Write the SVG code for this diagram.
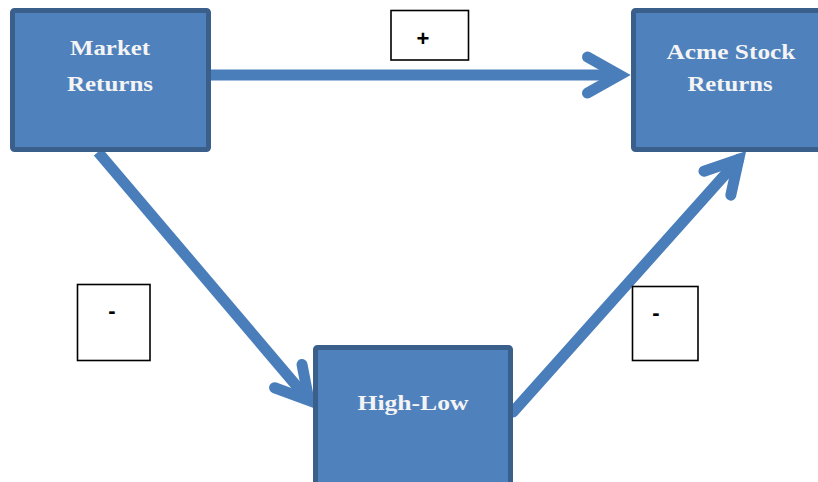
<svg xmlns="http://www.w3.org/2000/svg" width="818" height="482" viewBox="0 0 818 482">
<style>
.box{fill:#4f81bd;stroke:#3a5f8b;stroke-width:5}
.lbl{font-family:"Liberation Serif","Times New Roman",serif;font-weight:bold;font-size:22px;fill:#f4f4f4;text-anchor:middle}
.sign{fill:#fff;stroke:#000;stroke-width:1.6}
.signt{font-family:"Liberation Sans",Arial,sans-serif;font-weight:bold;font-size:22px;fill:#000;text-anchor:middle}
.conn{fill:none;stroke:#4a7ebb;stroke-width:11;marker-end:url(#ah)}
</style>
<defs>
<marker id="ah" markerUnits="userSpaceOnUse" orient="auto" refX="0" refY="0" viewBox="-50 -30 60 60" markerWidth="60" markerHeight="60" overflow="visible">
<path d="M-32,-18 L0,0 L-32,18" fill="none" stroke="#4a7ebb" stroke-width="11" stroke-linecap="round" stroke-linejoin="miter"/>
</marker>
</defs>
<rect width="818" height="482" fill="#fff"/>
<g id="connectors">
<path class="conn" d="M210,75 L619.5,75"/>
<path class="conn" d="M98,152 L309,400.5"/>
<path class="conn" stroke-linecap="round" d="M513,412 L738.7,159.3"/>
</g>
<g id="market">
<rect class="box" x="12.5" y="10.5" width="196" height="139" rx="2"/>
<text class="lbl" x="110" y="55" textLength="80" lengthAdjust="spacingAndGlyphs">Market</text>
<text class="lbl" x="110" y="91" textLength="86" lengthAdjust="spacingAndGlyphs">Returns</text>
</g>
<g id="acme">
<rect class="box" x="633.5" y="10.5" width="196" height="139" rx="2"/>
<text class="lbl" x="731" y="59" textLength="129" lengthAdjust="spacingAndGlyphs">Acme Stock</text>
<text class="lbl" x="730" y="91" textLength="85" lengthAdjust="spacingAndGlyphs">Returns</text>
</g>
<g id="highlow">
<rect class="box" x="315.5" y="347.5" width="195" height="139" rx="2"/>
<text class="lbl" x="413" y="410" textLength="111" lengthAdjust="spacingAndGlyphs">High-Low</text>
</g>
<g id="plus">
<rect class="sign" x="391" y="10.5" width="77.5" height="49.5"/>
<text class="signt" x="423" y="46">+</text>
</g>
<g id="minus-left">
<rect class="sign" x="77.5" y="284.5" width="72.5" height="76"/>
<text class="signt" x="112" y="318">-</text>
</g>
<g id="minus-right">
<rect class="sign" x="632.5" y="286.5" width="65.5" height="74"/>
<text class="signt" x="656" y="320">-</text>
</g>
</svg>
